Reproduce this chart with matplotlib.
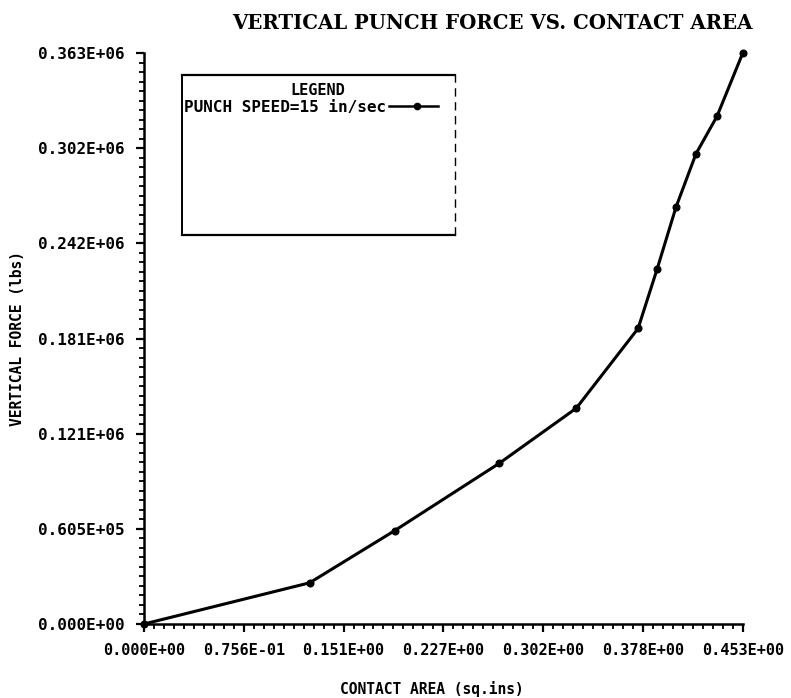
import matplotlib
matplotlib.use("Agg")
import matplotlib.pyplot as plt
from matplotlib.ticker import FixedLocator, AutoMinorLocator

# Contact area (sq. ins) and vertical punch force (lbs)
contact_area = [0.0, 0.1255, 0.1898, 0.2692, 0.3275, 0.3743, 0.3887, 0.4031, 0.4182, 0.4341, 0.4536]
vertical_force = [0.0, 26.2e3, 59.3e3, 102.2e3, 137.2e3, 187.9e3, 225.6e3, 265.2e3, 299.0e3, 322.8e3, 363.0e3]

x_ticks = [0.0, 0.0756, 0.1512, 0.2268, 0.3024, 0.378, 0.4536]
x_tick_labels = ["0.000E+00", "0.756E-01", "0.151E+00", "0.227E+00", "0.302E+00", "0.378E+00", "0.453E+00"]
y_ticks = [0.0, 0.605e5, 1.21e5, 1.815e5, 2.42e5, 3.025e5, 3.63e5]
y_tick_labels = ["0.000E+00", "0.605E+05", "0.121E+06", "0.181E+06", "0.242E+06", "0.302E+06", "0.363E+06"]

legend_label = "PUNCH SPEED=15 in/sec"

mono = {"family": ["DejaVu Sans Mono"], "weight": "bold"}

fig = plt.figure(figsize=(7.91, 6.98), dpi=100)
ax = fig.add_axes([0.182, 0.106, 0.757, 0.818])

ax.plot(contact_area, vertical_force, color="black", lw=2.2, clip_on=False,
        marker="o", ms=4.8, mfc="black", mec="black", solid_capstyle="round")

ax.set_xlim(x_ticks[0], x_ticks[-1])
ax.set_ylim(y_ticks[0], y_ticks[-1])

for side in ("top", "right"):
    ax.spines[side].set_visible(False)
for side in ("left", "bottom"):
    ax.spines[side].set_linewidth(1.8)

ax.xaxis.set_major_locator(FixedLocator(x_ticks))
ax.yaxis.set_major_locator(FixedLocator(y_ticks))
ax.xaxis.set_minor_locator(AutoMinorLocator(10))
ax.yaxis.set_minor_locator(AutoMinorLocator(10))
ax.tick_params(which="major", direction="out", length=6, width=1.6, pad=8)
ax.tick_params(which="minor", direction="out", length=3.5, width=1.3)
ax.set_xticklabels(x_tick_labels, fontsize=11, **mono)
ax.set_yticklabels(y_tick_labels, fontsize=11.5, **mono)

ax.set_xlabel("CONTACT AREA (sq.ins)", fontsize=10.5, **mono)
ax.set_ylabel("VERTICAL FORCE (lbs)", fontsize=10.5, **mono)
ax.xaxis.set_label_coords(0.48, -0.099)
ax.yaxis.set_label_coords(-0.198, 0.5)

fig.text(0.623, 0.967, "VERTICAL PUNCH FORCE VS. CONTACT AREA", ha="center", va="center",
         fontsize=14.2, family=["DejaVu Serif"], weight="heavy")

# Legend panel drawn in axes coordinates
bx0, bx1, by0, by1 = 0.063, 0.519, 0.682, 0.962
ax.plot([bx0, bx1], [by1, by1], color="black", lw=1.6, transform=ax.transAxes, clip_on=False)
ax.plot([bx0, bx1], [by0, by0], color="black", lw=1.6, transform=ax.transAxes, clip_on=False)
ax.plot([bx0, bx0], [by0, by1], color="black", lw=1.4, transform=ax.transAxes, clip_on=False)
ax.plot([bx1, bx1], [by0, by1], color="black", lw=1.0, ls=(0, (6, 4)), transform=ax.transAxes, clip_on=False)
ax.text((bx0 + bx1) / 2, 0.935, "LEGEND", transform=ax.transAxes, ha="center", va="center",
        fontsize=11, **mono)
ax.text(bx0 + 0.004, 0.905, legend_label, transform=ax.transAxes, ha="left", va="center",
        fontsize=11.5, **mono)
ax.plot([0.41, 0.491], [0.907, 0.907], color="black", lw=1.8, transform=ax.transAxes, clip_on=False)
ax.plot([0.456], [0.907], marker="o", ms=4.5, color="black", transform=ax.transAxes, clip_on=False)

fig.savefig("out.png", dpi=100)
